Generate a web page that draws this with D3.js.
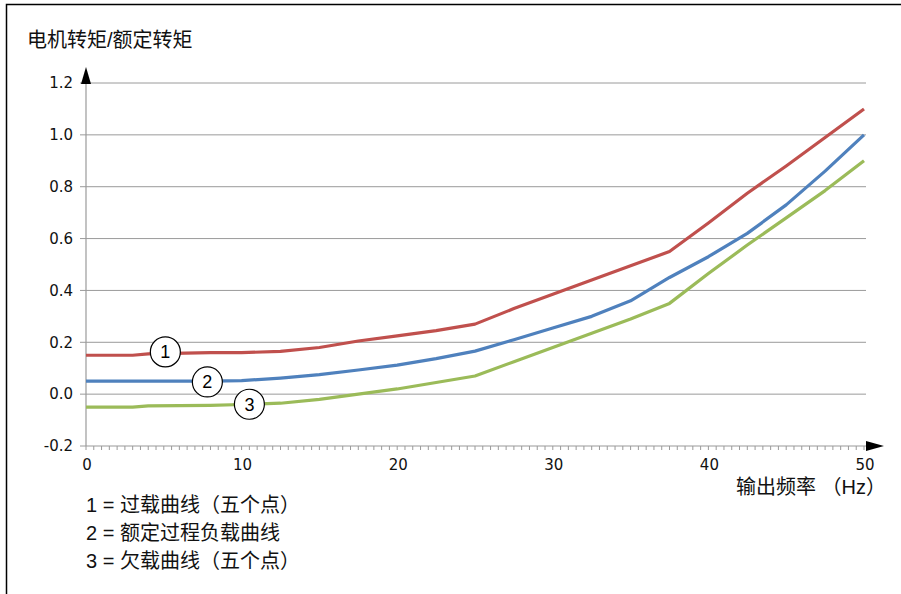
<!DOCTYPE html>
<html>
<head>
<meta charset="utf-8">
<script src="https://cdn.jsdelivr.net/npm/d3@7"></script>
<style>
  body { margin: 0; background: #fff; }
  svg { display: block; }
</style>
</head>
<body>
<div id="chart"></div>
<script>
// datos (Hz, par/par nominal)
const freqs = [0, 3, 4, 8, 10, 12.5, 15, 17.5, 20, 22.5, 25, 27.5, 30, 32.5, 35, 37.5, 40, 42.5, 45, 47.5, 50];
const overload  = [0.15, 0.15, 0.155, 0.16, 0.16, 0.165, 0.18, 0.205, 0.225, 0.245, 0.27, 0.33, 0.385, 0.44, 0.495, 0.55, 0.66, 0.775, 0.88, 0.99, 1.1];
const nominal   = [0.05, 0.05, 0.05, 0.05, 0.052, 0.062, 0.075, 0.093, 0.112, 0.137, 0.166, 0.21, 0.255, 0.3, 0.36, 0.45, 0.53, 0.62, 0.73, 0.86, 1.0];
const underload = [-0.05, -0.05, -0.045, -0.043, -0.04, -0.035, -0.02, 0.0, 0.02, 0.045, 0.07, 0.125, 0.18, 0.235, 0.29, 0.35, 0.465, 0.575, 0.68, 0.785, 0.9];

const seriesNames = ["1", "2", "3"];
const seriesColors = ["#c0504d", "#4f81bd", "#9bbb59"];
// posición de los números en círculo (Hz, valor)
const markerHz = [5.1, 7.8, 10.5];
const markerVal = [0.163, 0.047, -0.039];

const yTicks = [-0.2, 0.0, 0.2, 0.4, 0.6, 0.8, 1.0, 1.2];
const xTicks = [0, 10, 20, 30, 40, 50];

const yTitle = "电机转矩/额定转矩";
const xTitle = "输出频率 （Hz）";
const legendLines = ["1 = 过载曲线（五个点）", "2 = 额定过程负载曲线", "3 = 欠载曲线（五个点）"];

const width = 901, height = 594;
const margin = { top: 83, right: 37, bottom: 148, left: 86 };
const innerW = width - margin.left - margin.right,
      innerH = height - margin.top - margin.bottom;

const svg = d3.select("#chart").append("svg")
  .attr("width", width)
  .attr("height", height);

// marco
svg.append("path")
  .attr("d", `M6.5,${height} V4.5 H${width}`)
  .attr("fill", "none")
  .attr("stroke", "#000")
  .attr("stroke-width", 1.5);

const g = svg.append("g").attr("transform", `translate(${margin.left},${margin.top})`);

const x = d3.scaleLinear().domain([0, 50]).range([0, innerW]);
const y = d3.scaleLinear().domain([-0.2, 1.2]).range([innerH, 0]);

const numFont = "'DejaVu Sans', Verdana, sans-serif";
const cjkFont = "'Liberation Sans', Arial, 'Noto Sans CJK SC', sans-serif";

// rejilla
g.append("g")
  .selectAll("line")
  .data(yTicks.filter(d => d > -0.2))
  .enter().append("line")
    .attr("x1", -6).attr("x2", x(50) + 2)
    .attr("y1", d => y(d)).attr("y2", d => y(d))
    .attr("stroke", "#9a9a9a")
    .attr("stroke-width", 1);

// eje Y
g.append("line")
  .attr("x1", 0).attr("x2", 0)
  .attr("y1", innerH).attr("y2", -6)
  .attr("stroke", "#9a9a9a").attr("stroke-width", 1.2);
g.append("line")
  .attr("x1", -6).attr("x2", 0)
  .attr("y1", innerH).attr("y2", innerH)
  .attr("stroke", "#9a9a9a");
g.append("path")
  .attr("d", "M0,-16 L-5,1 L5,1 Z")
  .attr("fill", "#000");

g.append("g")
  .selectAll("text")
  .data(yTicks)
  .enter().append("text")
    .attr("x", -13)
    .attr("y", d => y(d))
    .attr("dy", "0.35em")
    .attr("text-anchor", "end")
    .style("font-family", numFont)
    .style("font-size", "15px")
    .style("fill", "#111")
    .text(d => d3.format(".1f")(d).replace("−", "-"));

// eje X
g.append("line")
  .attr("x1", 0).attr("x2", x(50) + 4)
  .attr("y1", innerH).attr("y2", innerH)
  .attr("stroke", "#9a9a9a").attr("stroke-width", 1.2);
g.append("g")
  .selectAll("line")
  .data(d3.range(0, 50.01, 0.5))
  .enter().append("line")
    .attr("x1", d => x(d)).attr("x2", d => x(d))
    .attr("y1", innerH).attr("y2", innerH + 4)
    .attr("stroke", "#9a9a9a");
g.append("path")
  .attr("d", `M${x(50) + 2},${innerH - 5} L${x(50) + 20},${innerH} L${x(50) + 2},${innerH + 5} Z`)
  .attr("fill", "#000");

g.append("g")
  .selectAll("text")
  .data(xTicks)
  .enter().append("text")
    .attr("x", d => x(d) + 1)
    .attr("y", innerH + 24)
    .attr("text-anchor", "middle")
    .style("font-family", numFont)
    .style("font-size", "15px")
    .style("fill", "#111")
    .text(d => d);

// títulos
svg.append("text")
  .attr("x", 27).attr("y", 47)
  .style("font-family", cjkFont)
  .style("font-size", "20px")
  .style("fill", "#111")
  .text(yTitle);

svg.append("text")
  .attr("x", 886).attr("y", 494)
  .attr("text-anchor", "end")
  .style("font-family", cjkFont)
  .style("font-size", "20px")
  .style("fill", "#111")
  .text(xTitle);

// curvas
const series = [overload, nominal, underload];
const line = d3.line()
  .x((d, i) => x(freqs[i]))
  .y(d => y(d));

g.append("g")
  .selectAll("path")
  .data(series)
  .enter().append("path")
    .attr("d", d => line(d))
    .attr("fill", "none")
    .attr("stroke", (_, i) => seriesColors[i])
    .attr("stroke-width", 3.2)
    .attr("stroke-linejoin", "round");

// números en círculo
const marks = g.append("g")
  .selectAll("g")
  .data(seriesNames)
  .enter().append("g")
    .attr("transform", (_, i) => `translate(${x(markerHz[i])},${y(markerVal[i])})`);
marks.append("circle")
  .attr("r", 15)
  .attr("fill", "#fff")
  .attr("stroke", "#000")
  .attr("stroke-width", 1.2);
marks.append("text")
  .attr("text-anchor", "middle")
  .attr("dy", "0.36em")
  .style("font-family", "'Liberation Sans', Arial, sans-serif")
  .style("font-size", "18px")
  .style("fill", "#000")
  .text(d => d);

// leyenda
svg.append("g")
  .selectAll("text")
  .data(legendLines)
  .enter().append("text")
    .attr("x", 86)
    .attr("y", (_, i) => 512 + i * 28)
    .style("font-family", cjkFont)
    .style("font-size", "20px")
    .style("fill", "#111")
    .text(d => d);
</script>
</body>
</html>
